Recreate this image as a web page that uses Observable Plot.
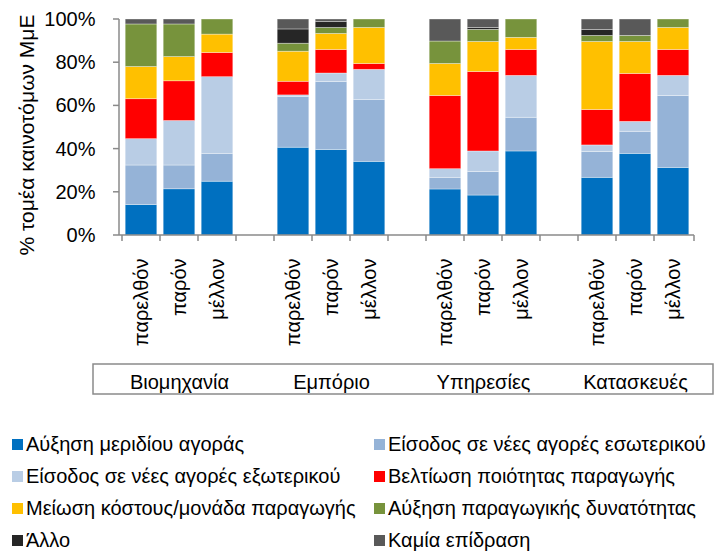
<!DOCTYPE html>
<html>
<head>
<meta charset="utf-8">
<script src="https://cdn.jsdelivr.net/npm/d3@7"></script>
<script src="https://cdn.jsdelivr.net/npm/@observablehq/plot@0.6"></script>
<style>
  body { margin: 0; background: #fff; font-family: "Liberation Sans", Arial, sans-serif; }
  #chart svg { display: block; }
  #legend { display: grid; grid-template-columns: 362px 343px; padding-left: 12px; padding-top: 18px; }
  .item { display: flex; align-items: center; height: 32px; font-size: 20px; color: #000; white-space: nowrap; }
  .sw { width: 11px; height: 11px; margin-right: 3px; flex: none; }
</style>
</head>
<body>
<div id="chart"></div>
<div id="legend"></div>
<script>
// ---- data ----
const groups = ["Βιομηχανία", "Εμπόριο", "Υπηρεσίες", "Κατασκευές"];
const periods = ["παρελθόν", "παρόν", "μέλλον"];
const seriesNames = [
  "Αύξηση μεριδίου αγοράς",
  "Είσοδος σε νέες αγορές εσωτερικού",
  "Είσοδος σε νέες αγορές εξωτερικού",
  "Βελτίωση ποιότητας παραγωγής",
  "Μείωση κόστους/μονάδα παραγωγής",
  "Αύξηση παραγωγικής δυνατότητας",
  "Άλλο",
  "Καμία επίδραση"
];
const seriesColors = ["#0070C0", "#95B3D7", "#B9CDE5", "#FF0000", "#FFC000", "#77933C", "#262626", "#595959"];
// values in %, order: Βιομηχανία(παρελθόν, παρόν, μέλλον), Εμπόριο(...), Υπηρεσίες(...), Κατασκευές(...)
const marketShare      = [14.1, 21.4, 24.9, 40.6, 39.6, 34.1, 21.3, 18.5, 38.9, 26.7, 37.8, 31.3];
const domesticMarkets  = [18.3, 11.0, 12.9, 23.4, 31.5, 28.7,  5.4, 10.9, 15.6, 12.0, 10.2, 33.3];
const foreignMarkets   = [12.2, 20.6, 35.5,  0.8,  3.9, 13.9,  4.0,  9.5, 19.4,  3.0,  4.6,  9.3];
const quality          = [18.5, 18.4, 11.2,  6.3, 10.9,  2.7, 33.9, 36.8, 12.0, 16.4, 22.2, 12.0];
const costReduction    = [14.9, 11.2,  8.5, 13.9,  7.4, 16.7, 14.8, 13.9,  5.6, 31.5, 14.8, 10.2];
const capacity         = [19.7, 15.1,  7.0,  3.7,  2.8,  3.9, 10.4,  5.6,  8.5,  2.8,  2.8,  3.9];
const other            = [ 0.0,  0.0,  0.0,  6.6,  2.8,  0.0,  0.0,  0.9,  0.0,  2.8,  0.0,  0.0];
const noEffect         = [ 2.3,  2.3,  0.0,  4.6,  1.1,  0.0, 10.2,  3.9,  0.0,  4.8,  7.6,  0.0];
const seriesValues = [marketShare, domesticMarkets, foreignMarkets, quality, costReduction, capacity, other, noEffect];
const yTicks = [0, 0.2, 0.4, 0.6, 0.8, 1];
const yTitle = "% τομέα καινοτόμων ΜμΕ";

// ---- build slots (with an empty slot between groups) ----
const slots = [];
groups.forEach((g, gi) => {
  periods.forEach(p => slots.push(g + "|" + p));
  if (gi < groups.length - 1) slots.push("gap" + gi);
});
const rows = [];
seriesNames.forEach((s, si) => {
  groups.forEach((g, gi) => {
    periods.forEach((p, pi) => {
      rows.push({slot: g + "|" + p, series: s, value: seriesValues[si][gi * periods.length + pi]});
    });
  });
});

const axisColor = "#8a8a8a";
function axisLines(index, scales, values, dims) {
  const x = scales.x, y = scales.y;
  const left = dims.marginLeft, right = dims.width - dims.marginRight;
  const base = y(0);
  const root = d3.create("svg:g");
  const g = root.append("g")
    .attr("stroke", axisColor).attr("stroke-width", 1.5).attr("fill", "none");
  g.append("line").attr("x1", left).attr("x2", left).attr("y1", y(1)).attr("y2", base);
  yTicks.forEach(t => g.append("line").attr("x1", left - 6).attr("x2", left).attr("y1", y(t)).attr("y2", y(t)));
  g.append("line").attr("x1", left).attr("x2", right).attr("y1", base).attr("y2", base);
  const bounds = slots.map(k => x(k)).concat([right]);
  bounds.forEach(bx => g.append("line").attr("x1", bx).attr("x2", bx).attr("y1", base).attr("y2", base + 6));
  g.append("rect").attr("x", left - 26).attr("y", base + 129)
    .attr("width", right - left + 45).attr("height", 30);
  // y title
  const cy = (y(0) + y(1)) / 2 + 8;
  root.append("text")
    .attr("transform", `translate(27,${cy}) rotate(-90)`)
    .attr("text-anchor", "middle").attr("dy", "0.35em")
    .attr("fill", "#000").attr("font-size", 21)
    .text(yTitle);
  return root.node();
}

const chart = Plot.plot({
  width: 717,
  height: 410,
  marginLeft: 119,
  marginRight: 23,
  marginTop: 19,
  marginBottom: 175,
  style: {fontFamily: "Liberation Sans, Arial, sans-serif", fontSize: "20px", color: "#000", background: "#fff"},
  x: {
    domain: slots, padding: 0, label: null,
    tickFormat: k => k.startsWith("gap") ? "" : k.split("|")[1],
    tickRotate: -90, tickSize: 0, tickPadding: 23
  },
  y: {
    domain: [0, 1], label: null, ticks: yTicks,
    tickFormat: d => Math.round(d * 100) + "%", tickSize: 0, tickPadding: 24
  },
  color: {domain: seriesNames, range: seriesColors},
  marks: [
    Plot.barY(rows, Plot.stackY({offset: "normalize"}, {
      x: "slot", y: "value", fill: "series",
      insetLeft: 3.2, insetRight: 3.2,
      stroke: "#fff", strokeOpacity: 0.45, strokeWidth: 0.75
    })),
    axisLines,
    Plot.text(groups, {x: g => g + "|" + periods[1], y: 0, text: d => d, dy: 147, fontSize: 20, fill: "#000"})
  ]
});
document.getElementById("chart").append(chart);

// ---- legend ----
const legend = document.getElementById("legend");
seriesNames.forEach((s, i) => {
  const item = document.createElement("div");
  item.className = "item";
  const sw = document.createElement("span");
  sw.className = "sw";
  sw.style.background = seriesColors[i];
  item.append(sw, document.createTextNode(s));
  legend.append(item);
});
</script>
</body>
</html>
